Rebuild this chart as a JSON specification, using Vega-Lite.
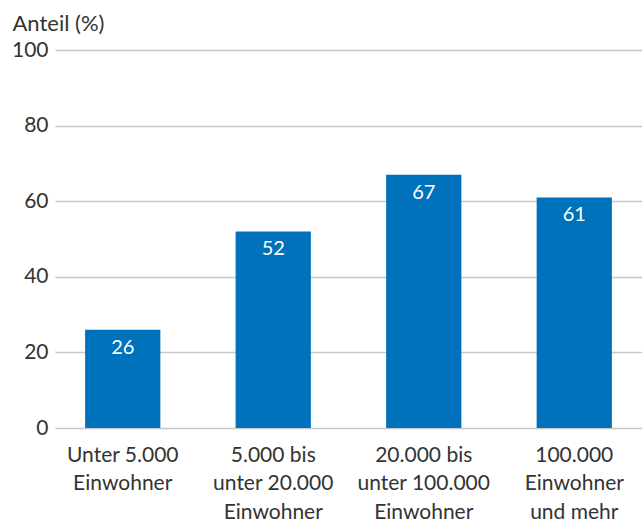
{
  "$schema": "https://vega.github.io/schema/vega-lite/v6.json",
  "autosize": {"type": "none"},
  "padding": {"left": 55, "top": 50, "right": 0, "bottom": 97},
  "width": 587,
  "height": 378,
  "background": "white",
  "config": {
    "view": {"stroke": null},
    "font": "Lato",
    "axis": {"labelFont": "Lato", "titleFont": "Lato"}
  },
  "data": {
    "values": [
      {"gruppe": "Unter 5.000 Einwohner", "anteil": 26},
      {"gruppe": "5.000 bis unter 20.000 Einwohner", "anteil": 52},
      {"gruppe": "20.000 bis unter 100.000 Einwohner", "anteil": 67},
      {"gruppe": "100.000 Einwohner und mehr", "anteil": 61}
    ]
  },
  "encoding": {
    "x": {
      "field": "gruppe",
      "type": "nominal",
      "sort": null,
      "scale": {"paddingInner": 0.5, "paddingOuter": 0.2},
      "axis": {
        "title": null,
        "labelAngle": 0,
        "labelFontSize": 21,
        "labelColor": "#333333",
        "labelLineHeight": 28.5,
        "labelPadding": 16,
        "labelBaseline": "top",
        "ticks": false,
        "domain": false,
        "labelExpr": "datum.value == 'Unter 5.000 Einwohner' ? ['Unter 5.000', 'Einwohner'] : datum.value == '5.000 bis unter 20.000 Einwohner' ? ['5.000 bis', 'unter 20.000', 'Einwohner'] : datum.value == '20.000 bis unter 100.000 Einwohner' ? ['20.000 bis', 'unter 100.000', 'Einwohner'] : ['100.000', 'Einwohner', 'und mehr']"
      }
    },
    "y": {
      "field": "anteil",
      "type": "quantitative",
      "scale": {"domain": [0, 100], "nice": false},
      "axis": {
        "values": [0, 20, 40, 60, 80, 100],
        "title": "Anteil (%)",
        "titleAngle": 0,
        "titleAlign": "left",
        "titleBaseline": "alphabetic",
        "titleX": -43,
        "titleY": -20,
        "titleFontSize": 22,
        "titleFontWeight": "normal",
        "titleColor": "#333333",
        "labelFontSize": 21,
        "labelColor": "#333333",
        "labelPadding": 7,
        "ticks": false,
        "domain": false,
        "grid": true,
        "gridColor": "#c8c8c8",
        "gridWidth": 1.5
      }
    }
  },
  "layer": [
    {"mark": {"type": "bar", "color": "#0071bb"}},
    {
      "mark": {"type": "text", "color": "white", "fontSize": 20, "baseline": "top", "dy": 8},
      "encoding": {"text": {"field": "anteil", "type": "quantitative"}}
    }
  ]
}
